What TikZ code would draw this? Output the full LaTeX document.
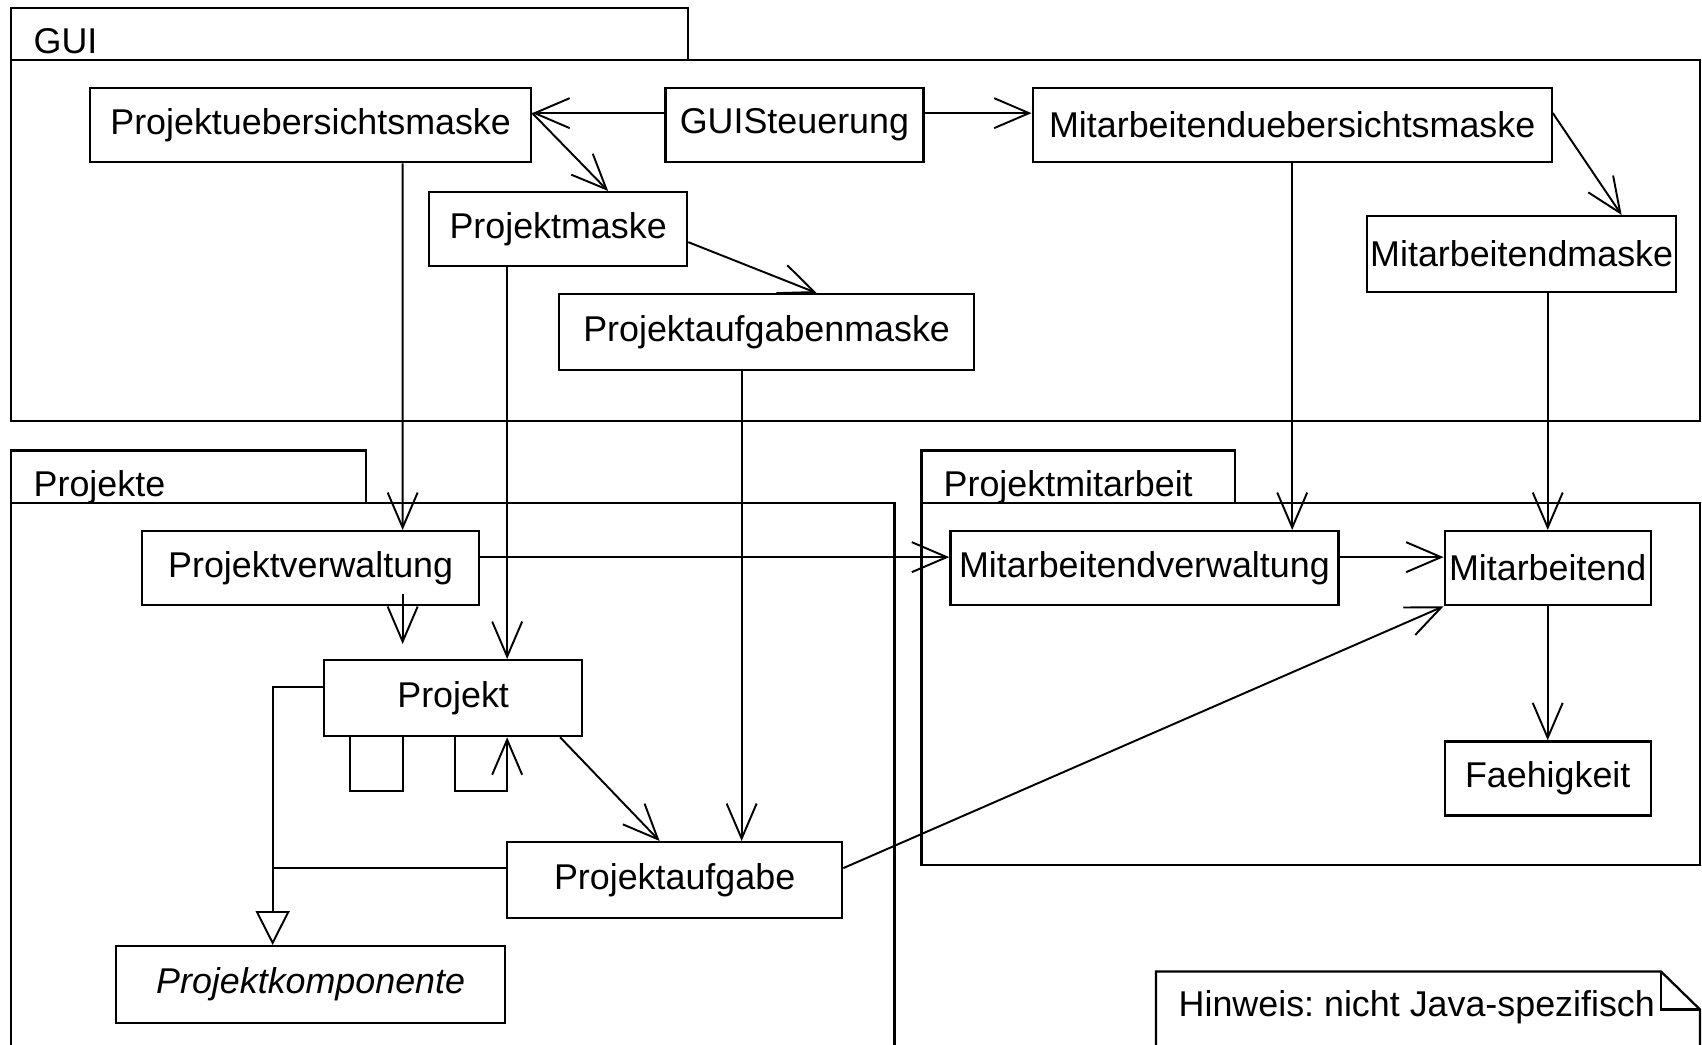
\documentclass[tikz,border=0pt]{standalone}
\usepackage{fontspec}
\setmainfont{Liberation Sans}
\usepackage{tikz}
\usetikzlibrary{positioning, arrows.meta}
\frenchspacing

\begin{document}
\begin{tikzpicture}[
  font=\fontsize{10.2}{12}\selectfont,
  node distance=0.6cm,
  cls/.style={
    rectangle, draw=black, line width=0.65pt, fill=white,
    minimum height=0.74cm, inner sep=0pt, align=center
  },
  pkg/.style={draw=black, line width=0.65pt},
  pkglabel/.style={inner sep=0pt, anchor=base west},
  assoc/.style={-{Straight Barb[length=3.5mm, width=3mm]}, line width=0.55pt},
  gen/.style={-{Triangle[length=3.4mm, width=3.4mm, fill=white]}, line width=0.55pt},
]
\useasboundingbox (0,0) rectangle (17.02,-10.45);

% Pakete
\draw[pkg] (0.11,-0.60) rectangle (6.88,-0.08);
\draw[pkg] (0.11,-0.60) rectangle (17.00,-4.21);
\node[pkglabel] (guilbl) at (0.33,-0.535) {GUI};

\draw[pkg] (0.11,-5.03) rectangle (3.66,-4.505);
\draw[pkg] (0.11,-10.5) -- (0.11,-5.03) -- (8.945,-5.03) -- (8.945,-10.5);
\node[pkglabel] (pkglbl) at (0.33,-4.96) {Projekte};

\draw[pkg] (9.216,-5.03) rectangle (12.353,-4.505);
\draw[pkg] (9.216,-5.03) rectangle (17.00,-8.65);
\node[pkglabel] (pmlbl) at (9.43,-4.96) {Projektmitarbeit};

% Hinweis
\draw[pkg] (11.56,-10.5) -- (11.56,-9.715) -- (16.61,-9.715) -- (17.00,-10.095) -- (17.00,-10.5);
\draw[pkg] (16.61,-9.715) -- (16.61,-10.095) -- (17.00,-10.095);
\node[pkglabel] (hint) at (11.78,-10.16) {Hinweis: nicht Java-spezifisch};

% GUI
\node[cls, minimum width=4.41cm, anchor=north west] (puem) at (0.89,-0.87) {Projektuebersichtsmaske};
\node[cls, minimum width=2.58cm, right=1.32cm of puem] (guist) {GUISteuerung};
\node[cls, minimum width=5.19cm, right=1.07cm of guist] (muem) {Mitarbeitenduebersichtsmaske};
\node[cls, minimum width=2.58cm, anchor=north west] (pmaske) at (4.28,-1.91) {Projektmaske};
\node[cls, minimum width=4.15cm, minimum height=0.76cm, anchor=north west] (pamaske) at (5.58,-2.93) {Projektaufgabenmaske};
\node[cls, minimum width=3.09cm, minimum height=0.76cm, anchor=north west] (mmaske) at (13.66,-2.15) {Mitarbeitendmaske};

% Projekte
\node[cls, minimum width=3.37cm, anchor=north west] (pverw) at (1.41,-5.30) {Projektverwaltung};
\node[cls, minimum width=2.58cm, minimum height=0.76cm, anchor=north west] (projekt) at (3.23,-6.59) {Projekt};
\node[cls, minimum width=3.35cm, minimum height=0.76cm, anchor=north west] (paufg) at (5.06,-8.41) {Projektaufgabe};
\node[cls, minimum width=3.89cm, minimum height=0.77cm, anchor=north west,
  font=\fontsize{10.2}{12}\selectfont\itshape] (pkomp) at (1.15,-9.45) {Projektkomponente};

% Projektmitarbeit
\node[cls, minimum width=3.88cm, right=4.69cm of pverw] (mverw) {Mitarbeitendverwaltung};
\node[cls, minimum width=2.06cm, right=1.04cm of mverw] (mitarb) {Mitarbeitend};
\node[cls, minimum width=2.06cm, below=1.34cm of mitarb] (faehig) {Faehigkeit};

% Assoziationen GUI
\draw[assoc] ([yshift=1.2mm]guist.west) -- ([yshift=1.2mm]puem.east);
\draw[assoc] ([yshift=1.2mm]guist.east) -- ([yshift=1.2mm]muem.west);
\draw[assoc] ([yshift=1.2mm]puem.east) -- ([xshift=5mm]pmaske.north);
\draw[assoc] ([yshift=1.2mm]muem.east) -- ([xshift=10mm]mmaske.north);
\draw[assoc] ([yshift=-1.3mm]pmaske.east) -- ([xshift=5mm]pamaske.north);

% GUI nach Fachklassen
\draw[assoc] ([xshift=9.2mm]puem.south) -- ([xshift=9.2mm]pverw.north);
\draw[assoc] ([xshift=-5.1mm]pmaske.south) -- ([xshift=-5.1mm]pmaske.south |- projekt.north);
\draw[assoc] ([xshift=-2.5mm]pamaske.south) -- ([xshift=-2.5mm]pamaske.south |- paufg.north);
\draw[assoc] (muem.south) -- (muem.south |- mverw.north);
\draw[assoc] (mmaske.south -| mitarb.north) -- (mitarb.north);

% Projekte
\draw[assoc] ([yshift=1.1mm]pverw.east) -- ([yshift=1.1mm]mverw.west);
\draw[assoc, shorten >=1.5mm] ([xshift=9.2mm, yshift=1.2mm]pverw.south) -- ([xshift=9.2mm]pverw.south |- projekt.north);
\draw[assoc] ([xshift=10.7mm]projekt.south) -- ([xshift=-1.5mm]paufg.north);
\draw[line width=0.55pt] ([xshift=-10.3mm]projekt.south) -- ++(0,-5.4mm) -| ([xshift=-5.0mm]projekt.south);
\draw[assoc] ([xshift=0.2mm]projekt.south) -- ++(0,-5.4mm) -| ([xshift=5.4mm]projekt.south);
\coordinate (genx) at ([xshift=-3.8mm]pkomp.north);
\draw[gen] ([yshift=1.1mm]projekt.west) -| (genx);
\draw[line width=0.55pt] ([yshift=1.2mm]paufg.west) -- ([yshift=1.2mm]paufg.west -| genx);
\draw[assoc] ([yshift=1.2mm]paufg.east) -- (mitarb.south west);

% Projektmitarbeit
\draw[assoc] ([yshift=1.1mm]mverw.east) -- ([yshift=1.1mm]mitarb.west);
\draw[assoc] (mitarb.south) -- (faehig.north);

\end{tikzpicture}
\end{document}
